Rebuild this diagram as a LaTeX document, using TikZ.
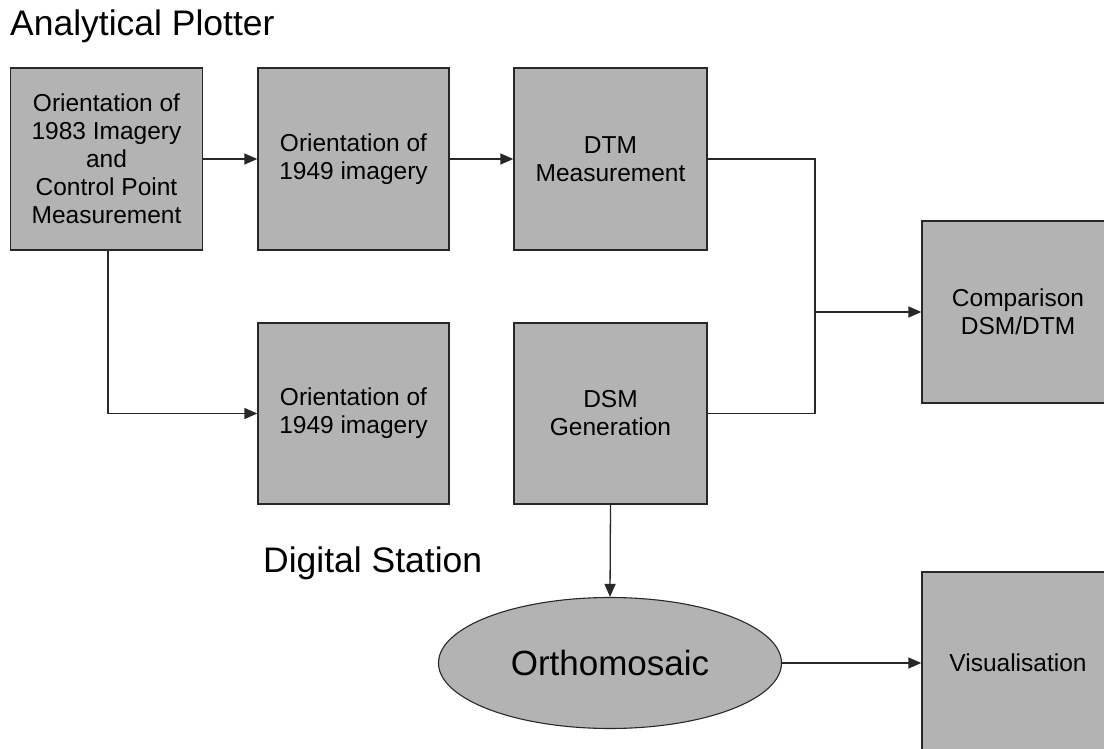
\documentclass[tikz,border=0pt]{standalone}
\usepackage{fontspec}
\setmainfont{Liberation Sans}
\usetikzlibrary{arrows.meta,shapes.geometric}
\definecolor{boxgray}{RGB}{179,179,179}
\definecolor{edge}{RGB}{40,40,40}
\begin{document}
\begin{tikzpicture}[x=1pt,y=-1pt,
  box/.style={draw=edge,line width=1.3pt,fill=boxgray,rectangle,inner sep=0pt,
    minimum width=192pt,minimum height=182pt,align=center,
    font=\fontsize{24.5}{28}\selectfont},
  oval/.style={draw=edge,line width=1.1pt,fill=boxgray,ellipse,inner sep=0pt,
    minimum width=343pt,minimum height=131pt,font=\fontsize{35}{40}\selectfont},
  lbl/.style={anchor=base west,inner sep=0pt,font=\fontsize{35.5}{40}\selectfont},
  conn/.style={draw=edge,line width=1.3pt},
  arr/.style={conn,-{Triangle[length=13pt,width=11pt]}}]
\useasboundingbox (0,0) rectangle (1104,749);
\begin{scope}
\clip (0,0) rectangle (1104,749);
\node[lbl] (t1) at (10,36) {Analytical Plotter};
\node[lbl] (t2) at (263,572) {Digital Station};
\node[box] (b1) at (106.5,159) {Orientation of\\1983 Imagery\\and\\Control Point\\Measurement};
\node[box,minimum width=191pt] (b2) at (353.5,159) {Orientation of\\1949 imagery};
\node[box,minimum width=193pt] (b3) at (610.5,159) {DTM\\Measurement};
\node[box,minimum width=191pt,minimum height=181pt] (b5) at (353.5,413.5) {Orientation of\\1949 imagery};
\node[box,minimum width=193pt,minimum height=181pt] (b6) at (610.5,413.5) {DSM\\Generation};
\node[box] (cmp) at (1018,312) {Comparison\\DSM/DTM};
\node[box] (vis) at (1018,663) {Visualisation};
\node[oval] (orth) at (610,663) {Orthomosaic};
\coordinate (j) at (815,312);
\draw[arr] (b1.east) -- (b2.west);
\draw[arr] (b2.east) -- (b3.west);
\draw[conn] (b3.east) -| (j) |- (b6.east);
\draw[arr] (j) -- (cmp.west);
\draw[arr] (b1.south -| 108,0) |- (b5.west);
\draw[arr] (b6.south) -- (orth.north);
\draw[arr] (orth.east) -- (vis.west);
\end{scope}
\end{tikzpicture}
\end{document}
